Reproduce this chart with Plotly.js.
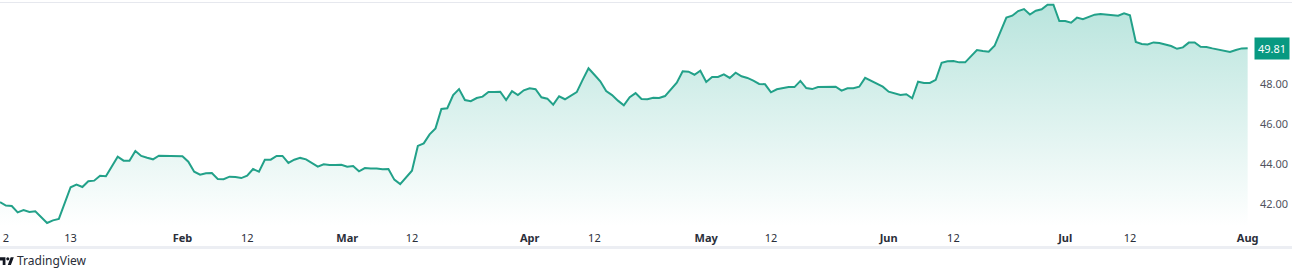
<!DOCTYPE html>
<html>
<head>
<meta charset="utf-8">
<script src="https://cdn.plot.ly/plotly-3.0.1.min.js"></script>
<style>
html,body{margin:0;padding:0;background:#ffffff;overflow:hidden}
#wrap{position:relative;width:1292px;height:268px}
#chart{position:absolute;left:0;top:0;width:1292px;height:268px}
#logo{position:absolute;left:0;top:256px}
#brand{position:absolute;left:17px;top:254px;font-family:"Noto Sans","Open Sans",sans-serif;font-size:12px;line-height:14px;color:#2a2e39;white-space:nowrap}
.hline{position:absolute;left:0;width:1292px;background:#e6e8ee}
</style>
</head>
<body>
<div id="wrap">
  <div class="hline" style="top:2px;height:1px"></div>
  <div class="hline" style="top:246px;height:3px;background:#eceef3"></div>
  <div id="chart"></div>
  <svg id="logo" width="14" height="10" viewBox="0 0 36 25"><path d="M14 23H7V11H0V3h14v20zM28 23h-8l7.5-20h8L28 23z" fill="#131722"/><circle cx="20" cy="7" r="4" fill="#131722"/></svg>
  <span id="brand"></span>
</div>
<script>
const dates = [
"2023-01-01","2023-01-02","2023-01-03","2023-01-04","2023-01-05","2023-01-06","2023-01-07","2023-01-09","2023-01-10","2023-01-11",
"2023-01-13","2023-01-14","2023-01-15","2023-01-16","2023-01-17","2023-01-18","2023-01-19","2023-01-21","2023-01-22","2023-01-23",
"2023-01-24","2023-01-25","2023-01-26","2023-01-27","2023-01-28","2023-01-29","2023-02-01","2023-02-02","2023-02-03","2023-02-04",
"2023-02-05","2023-02-06","2023-02-07","2023-02-08","2023-02-09","2023-02-10","2023-02-11","2023-02-12","2023-02-13","2023-02-14",
"2023-02-15","2023-02-16","2023-02-17","2023-02-18","2023-02-19","2023-02-20","2023-02-21","2023-02-22","2023-02-23","2023-02-24",
"2023-02-25","2023-02-26","2023-02-27","2023-02-28","2023-03-01","2023-03-02","2023-03-03","2023-03-04","2023-03-05","2023-03-06",
"2023-03-07","2023-03-08","2023-03-09","2023-03-10","2023-03-12","2023-03-13","2023-03-14","2023-03-15","2023-03-16","2023-03-17",
"2023-03-18","2023-03-19","2023-03-20","2023-03-21","2023-03-22","2023-03-23","2023-03-24","2023-03-25","2023-03-26","2023-03-27",
"2023-03-28","2023-03-29","2023-03-30","2023-03-31","2023-04-01","2023-04-02","2023-04-03","2023-04-04","2023-04-05","2023-04-06",
"2023-04-07","2023-04-08","2023-04-09","2023-04-10","2023-04-11","2023-04-12","2023-04-13","2023-04-14","2023-04-15","2023-04-16",
"2023-04-17","2023-04-18","2023-04-19","2023-04-20","2023-04-21","2023-04-22","2023-04-23","2023-04-24","2023-04-25","2023-04-26",
"2023-04-27","2023-04-28","2023-04-29","2023-04-30","2023-05-01","2023-05-02","2023-05-03","2023-05-04","2023-05-05","2023-05-06",
"2023-05-07","2023-05-08","2023-05-09","2023-05-10","2023-05-11","2023-05-12","2023-05-13","2023-05-14","2023-05-15","2023-05-16",
"2023-05-17","2023-05-18","2023-05-19","2023-05-20","2023-05-21","2023-05-22","2023-05-23","2023-05-24","2023-05-25","2023-05-26",
"2023-05-27","2023-05-28","2023-05-29","2023-05-30","2023-05-31","2023-06-01","2023-06-02","2023-06-03","2023-06-04","2023-06-05",
"2023-06-06","2023-06-07","2023-06-08","2023-06-09","2023-06-10","2023-06-11","2023-06-12","2023-06-13","2023-06-14","2023-06-15",
"2023-06-16","2023-06-17","2023-06-18","2023-06-19","2023-06-20","2023-06-21","2023-06-22","2023-06-23","2023-06-24","2023-06-25",
"2023-06-26","2023-06-27","2023-06-28","2023-06-29","2023-06-30","2023-07-01","2023-07-02","2023-07-03","2023-07-04","2023-07-05",
"2023-07-06","2023-07-07","2023-07-09","2023-07-10","2023-07-11","2023-07-12","2023-07-13","2023-07-14","2023-07-15","2023-07-16",
"2023-07-17","2023-07-18","2023-07-19","2023-07-20","2023-07-21","2023-07-22","2023-07-23","2023-07-24","2023-07-25","2023-07-26",
"2023-07-27","2023-07-28","2023-07-29","2023-07-30","2023-07-31","2023-08-01"
];
const prices = [
42.09,41.92,41.90,41.58,41.70,41.60,41.63,41.05,41.18,41.25,
42.84,42.97,42.85,43.14,43.17,43.42,43.39,44.37,44.17,44.17,
44.66,44.41,44.32,44.24,44.42,44.42,44.39,44.12,43.62,43.47,
43.54,43.55,43.25,43.24,43.37,43.35,43.30,43.42,43.75,43.62,
44.22,44.22,44.41,44.41,44.06,44.22,44.31,44.24,44.06,43.87,
43.99,43.95,43.95,43.97,43.87,43.90,43.64,43.80,43.78,43.78,
43.74,43.75,43.22,43.00,43.67,44.91,45.04,45.49,45.79,46.76,
46.80,47.46,47.76,47.21,47.15,47.31,47.38,47.61,47.62,47.63,
47.21,47.66,47.46,47.70,47.80,47.75,47.35,47.28,46.98,47.40,
47.25,47.41,47.61,48.22,48.80,48.48,48.15,47.66,47.46,47.18,
46.95,47.35,47.56,47.26,47.25,47.33,47.31,47.41,47.75,48.08,
48.65,48.63,48.48,48.68,48.12,48.37,48.37,48.50,48.32,48.58,
48.40,48.32,48.18,48.02,48.00,47.60,47.75,47.81,47.86,47.86,
48.17,47.81,47.76,47.86,47.86,47.85,47.88,47.68,47.80,47.80,
47.88,48.32,48.17,48.00,47.88,47.63,47.55,47.46,47.50,47.30,
48.13,48.07,48.07,48.22,49.08,49.15,49.17,49.10,49.10,49.43,
49.72,49.67,49.63,49.93,50.64,51.34,51.44,51.67,51.77,51.50,
51.69,51.76,51.99,51.99,51.17,51.17,51.09,51.34,51.26,51.36,
51.49,51.52,51.47,51.44,51.56,51.46,50.12,50.02,50.00,50.10,
50.07,50.00,49.92,49.78,49.85,50.09,50.10,49.88,49.87,49.80,
49.73,49.67,49.62,49.72,49.80,49.81
];
const xTickDates = ["2023-01-02","2023-01-13","2023-02-01","2023-02-12","2023-03-01","2023-03-12","2023-04-01","2023-04-12","2023-05-01","2023-05-12","2023-06-01","2023-06-12","2023-07-01","2023-07-12","2023-08-01"];
const xTickLabels = ["2","13","<b>Feb</b>","12","<b>Mar</b>","12","<b>Apr</b>","12","<b>May</b>","12","<b>Jun</b>","12","<b>Jul</b>","12","<b>Aug</b>"];
const yTickValues = [42,44,46,48];
const yTickLabels = ["42.00","44.00","46.00","48.00"];
const brandText = "TradingView";

document.getElementById("brand").textContent = brandText;

const lineColor = "#22a189";
const lastPrice = prices[prices.length - 1];

const trace = {
  x: dates, y: prices, type: "scatter", mode: "lines",
  line: {color: lineColor, width: 2},
  fill: "tozeroy",
  fillgradient: {type: "vertical", start: 40.9, stop: 52.07,
    colorscale: [[0, "rgba(34,171,148,0.0)"], [1, "rgba(34,171,148,0.32)"]]},
  hoverinfo: "skip"
};

const layout = {
  width: 1292, height: 268,
  margin: {l: 0, r: 40, t: 3, b: 42, pad: 0},
  paper_bgcolor: "rgba(0,0,0,0)", plot_bgcolor: "rgba(0,0,0,0)",
  showlegend: false,
  font: {family: "Noto Sans, Open Sans, sans-serif", size: 11, color: "#131722"},
  xaxis: {
    type: "date", range: ["2023-01-01 00:00", "2023-08-01 17:45"],
    tickmode: "array", tickvals: xTickDates, ticktext: xTickLabels,
    showgrid: false, zeroline: false, showline: false, ticks: "",
    tickfont: {size: 11, color: "#2a2e39"}, ticklabelstandoff: 4, fixedrange: true
  },
  yaxis: {
    side: "right", range: [40.897, 52.075],
    tickmode: "array", tickvals: yTickValues, ticktext: yTickLabels,
    showgrid: false, zeroline: false, showline: false, ticks: "",
    tickfont: {size: 11, color: "#50535e"}, ticklabelstandoff: 7, fixedrange: true
  },
  annotations: [
    {xref: "paper", yref: "y", x: 1, y: lastPrice, xanchor: "left", yanchor: "middle",
     xshift: 2, text: lastPrice.toFixed(2), showarrow: false,
     bgcolor: "#089981", borderpad: 3, font: {color: "#ffffff", size: 11}}
  ]
};

Plotly.newPlot("chart", [trace], layout, {displayModeBar: false, staticPlot: true});
</script>
</body>
</html>
